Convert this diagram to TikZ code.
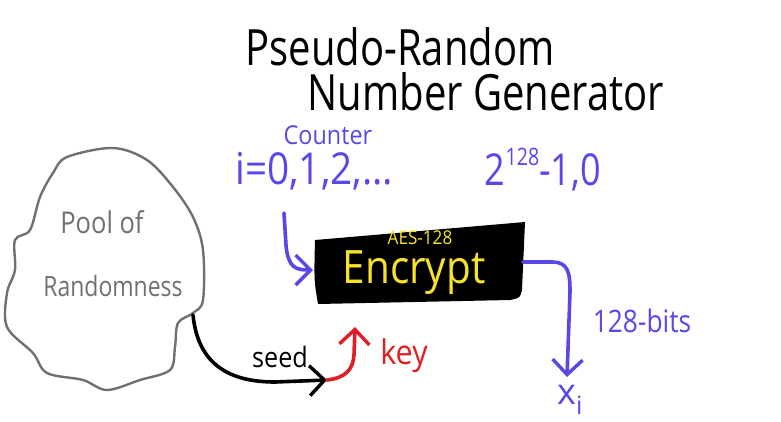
\documentclass[tikz,border=0pt]{standalone}
\usepackage{fontspec}
\setmainfont{Open Sans}
\usetikzlibrary{arrows.meta}
\definecolor{pen}{RGB}{88,72,232}
\definecolor{penyellow}{RGB}{246,226,40}
\definecolor{penred}{RGB}{222,30,36}
\definecolor{pengray}{RGB}{112,112,112}
\begin{document}
\begin{tikzpicture}[x=1pt,y=-1pt,line cap=round,line join=round,
  barb/.style={-{Straight Barb[length=15pt,width=30pt,line width=3.4pt]}},
  fsz/.style={font=\fontsize{#1}{#1}\selectfont},
  ink/.style={line width=3.6pt}]
\useasboundingbox (0,0) rectangle (781,421);
% title
\node[fsz=50,inner sep=0,xscale=0.8,transform shape] (t1) at (400,47) {Pseudo-Random};
\node[fsz=50,inner sep=0,xscale=0.8,transform shape] (t2) at (486,92) {Number Generator};
% counter
\node[fsz=26,text=pen,inner sep=0,xscale=0.9,transform shape] (cnt) at (328,135) {Counter};
\node[fsz=44,text=pen,inner sep=0,xscale=0.88,transform shape] (seq) at (314,171) {i=0,1,2,\dots};
\node[fsz=44,text=pen,inner sep=0,xscale=0.82,transform shape] (wrap) at (543,170) {2\raisebox{0.45em}{\fontsize{24}{24}\selectfont 128}-1,0};
% pool of randomness
\draw[pengray,line width=2.4pt] plot[smooth cycle,tension=0.55] coordinates {
 (67,157) (113,148) (147,160) (173,187) (193,217) (203,250) (203,300) (193,313)
 (178,323) (175,347) (170,370) (140,380) (107,390) (83,380) (47,373) (33,353)
 (7,327) (7,293) (15,270) (15,240) (30,230) (40,197) (53,173)};
\node[fsz=30,text=pengray,inner sep=0,xscale=0.85,transform shape] (pool1) at (102,222) {Pool of};
\node[fsz=28,text=pengray,inner sep=0,xscale=0.82,transform shape] (pool2) at (113,286) {Randomness};
% encrypt box
\fill[black] (315,240) -- (525,222) -- (522,290) .. controls (520,298) .. (510,300)
  -- (318,304) .. controls (314,280) .. (315,240) -- cycle;
\node[fsz=46,text=penyellow,inner sep=0,xscale=0.88,transform shape] (enc) at (414,273) {Encrypt};
\node[fsz=19,text=penyellow,inner sep=0,xscale=0.9,transform shape] (aes) at (420,238) {AES-128};
\coordinate (encin) at (313,270);
\coordinate (encout) at (523,262);
\coordinate (enckey) at (355,327);
% counter arrow
\coordinate (cstart) at (284,213);
\draw[pen,ink,barb] (cstart) -- (286,245) .. controls (288,268) and (296,270) .. (encin);
% output arrow
\node[fsz=31,text=pen,inner sep=0,xscale=0.85,transform shape] (bits) at (642,321) {128-bits};
\node[fsz=36,text=pen,inner sep=0] (xi) at (570,400) {x\textsubscript{i}};
\draw[pen,ink,barb] (encout) -- (552,262) .. controls (568,262) and (570,272) .. (570,292) -- (567,377);
% seed
\coordinate (poolout) at (193,315);
\coordinate (mid) at (327,380);
\node[fsz=28,inner sep=0,xscale=0.9,transform shape] (seed) at (280,357) {seed};
\draw[black,ink,barb] (poolout) .. controls (198,365) and (230,382) .. (275,382) -- (mid);
% key
\node[fsz=34,text=penred,inner sep=0,xscale=0.9,transform shape] (key) at (404,356) {key};
\draw[penred,ink,barb] (mid) .. controls (345,378) and (353,370) .. (354,355) -- (enckey);
\end{tikzpicture}
\end{document}
